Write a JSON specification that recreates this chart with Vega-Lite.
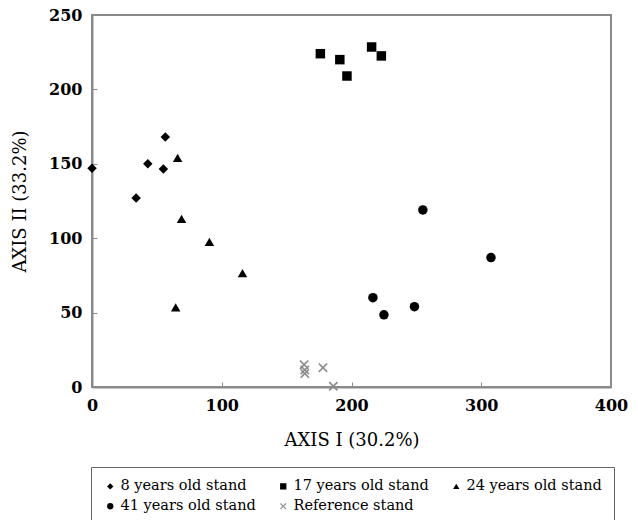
{
  "$schema": "https://vega.github.io/schema/vega-lite/v6.json",
  "width": 519,
  "height": 372,
  "autosize": {"type": "none"},
  "padding": {"left": 92, "top": 15, "right": 27, "bottom": 133},
  "background": "white",
  "config": {
    "font": "DejaVu Serif",
    "view": {"stroke": "#8a8a8a", "strokeWidth": 2},
    "axis": {
      "domainColor": "#8a8a8a",
      "domainWidth": 2,
      "tickColor": "#8a8a8a",
      "tickSize": -5,
      "grid": false,
      "labelFlush": false,
      "labelFont": "DejaVu Serif",
      "labelFontSize": 16,
      "labelFontWeight": "bold",
      "labelColor": "#000",
      "titleFont": "DejaVu Serif",
      "titleFontSize": 18,
      "titleFontWeight": "normal",
      "titleColor": "#000"
    },
    "legend": {
      "orient": "none",
      "legendX": -1,
      "legendY": 452,
      "direction": "horizontal",
      "columns": 3,
      "gridAlign": "all",
      "strokeColor": "#666",
      "padding": 12,
      "columnPadding": 20,
      "rowPadding": 5,
      "symbolSize": 40,
      "labelFont": "DejaVu Serif",
      "labelFontSize": 14.5,
      "labelColor": "#000",
      "labelOffset": 3,
      "labelLimit": 300
    }
  },
  "data": {
    "values": [
      {"x": 0, "y": 147, "stand": "8 years old stand"},
      {"x": 34, "y": 127, "stand": "8 years old stand"},
      {"x": 43, "y": 150, "stand": "8 years old stand"},
      {"x": 56.5, "y": 168, "stand": "8 years old stand"},
      {"x": 55, "y": 146.5, "stand": "8 years old stand"},
      {"x": 176, "y": 224, "stand": "17 years old stand"},
      {"x": 191, "y": 220, "stand": "17 years old stand"},
      {"x": 196.5, "y": 209, "stand": "17 years old stand"},
      {"x": 215.5, "y": 228.5, "stand": "17 years old stand"},
      {"x": 223, "y": 222.5, "stand": "17 years old stand"},
      {"x": 66, "y": 154, "stand": "24 years old stand"},
      {"x": 69, "y": 113, "stand": "24 years old stand"},
      {"x": 90.5, "y": 97.5, "stand": "24 years old stand"},
      {"x": 116, "y": 76.5, "stand": "24 years old stand"},
      {"x": 64.5, "y": 53.5, "stand": "24 years old stand"},
      {"x": 255, "y": 119, "stand": "41 years old stand"},
      {"x": 307.5, "y": 87, "stand": "41 years old stand"},
      {"x": 216.5, "y": 60, "stand": "41 years old stand"},
      {"x": 225, "y": 48.5, "stand": "41 years old stand"},
      {"x": 248.5, "y": 54, "stand": "41 years old stand"},
      {"x": 163.5, "y": 15, "stand": "Reference stand"},
      {"x": 164, "y": 11.5, "stand": "Reference stand"},
      {"x": 164, "y": 9, "stand": "Reference stand"},
      {"x": 178, "y": 13, "stand": "Reference stand"},
      {"x": 186, "y": 0.5, "stand": "Reference stand"}
    ]
  },
  "mark": {"type": "point", "filled": true, "opacity": 1, "size": 90},
  "encoding": {
    "x": {
      "field": "x",
      "type": "quantitative",
      "scale": {"domain": [0, 400], "nice": false, "zero": false},
      "axis": {"title": "AXIS I (30.2%)", "values": [0, 100, 200, 300, 400], "labelPadding": 15, "titlePadding": 18}
    },
    "y": {
      "field": "y",
      "type": "quantitative",
      "scale": {"domain": [0, 250], "nice": false, "zero": false},
      "axis": {"title": "AXIS II (33.2%)", "values": [0, 50, 100, 150, 200, 250], "labelPadding": 15, "titlePadding": 19}
    },
    "color": {
      "field": "stand",
      "type": "nominal",
      "scale": {
        "domain": ["8 years old stand", "17 years old stand", "24 years old stand", "41 years old stand", "Reference stand"],
        "range": ["#000000", "#000000", "#000000", "#000000", "#8c8c8c"]
      },
      "legend": {"title": null}
    },
    "shape": {
      "field": "stand",
      "type": "nominal",
      "scale": {
        "domain": ["8 years old stand", "17 years old stand", "24 years old stand", "41 years old stand", "Reference stand"],
        "range": ["diamond", "square", "triangle-up", "circle", "M-1,-0.75L-0.75,-1L0,-0.25L0.75,-1L1,-0.75L0.25,0L1,0.75L0.75,1L0,0.25L-0.75,1L-1,0.75L-0.25,0Z"]
      },
      "legend": {"title": null}
    }
  }
}
